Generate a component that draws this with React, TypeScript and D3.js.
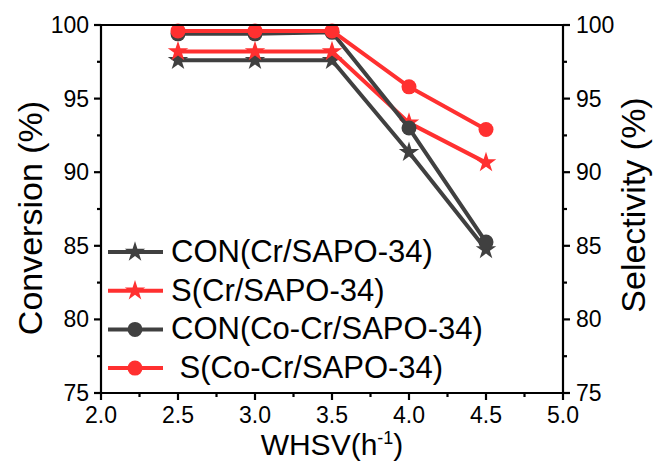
import React from "react";
import * as d3 from "d3";

const whsv = [2.5, 3.0, 3.5, 4.0, 4.5];
const conCr = [97.6, 97.6, 97.6, 91.35, 84.75];
const sCr = [98.2, 98.2, 98.2, 93.35, 90.65];
const conCoCr = [99.4, 99.4, 99.5, 93.0, 85.25];
const sCoCr = [99.6, 99.6, 99.6, 95.8, 92.9];
const seriesNames = ["CON(Cr/SAPO-34)", "S(Cr/SAPO-34)", "CON(Co-Cr/SAPO-34)", " S(Co-Cr/SAPO-34)"];
const xTicks = [2.0, 2.5, 3.0, 3.5, 4.0, 4.5, 5.0];
const yTicks = [75, 80, 85, 90, 95, 100];

const GRAY = "#404040";
const RED = "#ff3030";

export default function App() {
  const W = 657, H = 461;
  const L = 101, R = 563, T = 25, B = 393;
  const x = d3.scaleLinear().domain([2.0, 5.0]).range([L, R]);
  const y = d3.scaleLinear().domain([75, 100]).range([B, T]);
  const line = d3.line<number>().x((_, i) => x(whsv[i])).y((v) => y(v));
  const star = d3.symbol().type(d3.symbolStar).size(130)()!;
  const series = [
    { vals: conCr, color: GRAY, shape: "star" },
    { vals: sCr, color: RED, shape: "star" },
    { vals: conCoCr, color: GRAY, shape: "circle" },
    { vals: sCoCr, color: RED, shape: "circle" },
  ];
  const marker = (shape: string, color: string, cx: number, cy: number, k: string) =>
    shape === "star" ? (
      <path key={k} d={star} transform={`translate(${cx},${cy})`} fill={color} />
    ) : (
      <circle key={k} cx={cx} cy={cy} r={7.5} fill={color} />
    );
  const minorX = xTicks.slice(0, -1).map((t) => t + 0.25);
  const minorY = yTicks.slice(0, -1).map((t) => t + 2.5);
  const font = "Arial, 'Liberation Sans', sans-serif";
  return (
    <svg width={W} height={H} style={{ position: "absolute", left: 0, top: 0 }} fontFamily={font}>
      <rect width={W} height={H} fill="white" />
      {series.map((s, si) => (
        <g key={si}>
          <path d={line(s.vals)!} fill="none" stroke={s.color} strokeWidth={4} strokeLinejoin="round" />
          {s.vals.map((v, i) => marker(s.shape, s.color, x(whsv[i]), y(v), `${si}-${i}`))}
        </g>
      ))}
      {/* frame */}
      <g stroke="black" strokeWidth={2.2} fill="none">
        <line x1={L} y1={T} x2={R} y2={T} />
        <line x1={L} y1={B} x2={R} y2={B} />
        <line x1={L} y1={T} x2={L} y2={B} />
        <line x1={R} y1={T} x2={R} y2={B} />
        {xTicks.map((t) => <line key={"xt" + t} x1={x(t)} x2={x(t)} y1={B} y2={B + 7} />)}
        {minorX.map((t) => <line key={"xm" + t} x1={x(t)} x2={x(t)} y1={B} y2={B + 4} />)}
        {yTicks.map((t) => <line key={"yl" + t} x1={L} x2={L - 7} y1={y(t)} y2={y(t)} />)}
        {minorY.map((t) => <line key={"ylm" + t} x1={L} x2={L - 4} y1={y(t)} y2={y(t)} />)}
        {yTicks.map((t) => <line key={"yr" + t} x1={R} x2={R + 7} y1={y(t)} y2={y(t)} />)}
        {minorY.map((t) => <line key={"yrm" + t} x1={R} x2={R + 4} y1={y(t)} y2={y(t)} />)}
      </g>
      <g fontSize={23} fill="black">
        {xTicks.map((t) => (
          <text key={"xl" + t} x={x(t)} y={B + 30} textAnchor="middle">{t.toFixed(1)}</text>
        ))}
        {yTicks.map((t) => (
          <text key={"yll" + t} x={L - 12} y={y(t) + 8} textAnchor="end">{t}</text>
        ))}
        {yTicks.map((t) => (
          <text key={"yrl" + t} x={R + 13} y={y(t) + 8} textAnchor="start">{t}</text>
        ))}
      </g>
      <text x={332} y={455} textAnchor="middle" fontSize={30}>
        WHSV(h<tspan dy={-11} fontSize={18}>-1</tspan><tspan dy={11}>)</tspan>
      </text>
      <text transform={`translate(42,218) rotate(-90)`} textAnchor="middle" fontSize={34}>Conversion (%)</text>
      <text transform={`translate(645,205) rotate(-90)`} textAnchor="middle" fontSize={34}>Selectivity (%)</text>
      {/* legend */}
      {series.map((s, i) => {
        const ly = 252 + i * 38.7;
        return (
          <g key={"lg" + i}>
            <line x1={108} x2={163} y1={ly} y2={ly} stroke={s.color} strokeWidth={4} />
            {marker(s.shape, s.color, 135, ly, "lm" + i)}
            <text x={171} y={ly + 10} fontSize={31} style={{ whiteSpace: "pre" }}>{seriesNames[i]}</text>
          </g>
        );
      })}
    </svg>
  );
}
